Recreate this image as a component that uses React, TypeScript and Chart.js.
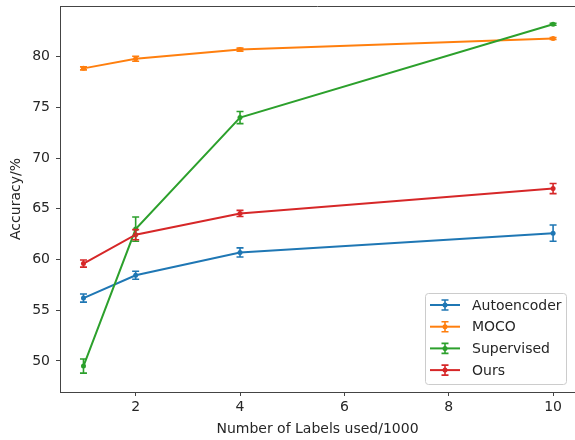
import React, { useEffect, useRef } from "react";
import { Chart, registerables } from "chart.js";

Chart.register(...registerables);

const xValues = [1, 2, 4, 10];
const xTicks = [2, 4, 6, 8, 10];
const yTicks = [50, 55, 60, 65, 70, 75, 80];

const seriesNames = ["Autoencoder", "MOCO", "Supervised", "Ours"];
const seriesColors = ["#1f77b4", "#ff7f0e", "#2ca02c", "#d62728"];

const autoencoder = [56.2, 58.45, 60.7, 62.6];
const autoencoderErr = [0.4, 0.4, 0.45, 0.8];
const moco = [78.85, 79.8, 80.7, 81.8];
const mocoErr = [0.15, 0.25, 0.15, 0.1];
const supervised = [49.5, 63.0, 74.0, 83.2];
const supervisedErr = [0.7, 1.2, 0.6, 0.1];
const ours = [59.6, 62.45, 64.55, 67.0];
const oursErr = [0.35, 0.5, 0.3, 0.5];

const seriesValues = [autoencoder, moco, supervised, ours];
const seriesErrors = [autoencoderErr, mocoErr, supervisedErr, oursErr];

const FONT = "'DejaVu Sans', sans-serif";
const TEXT = "#262626";
const AXIS = "#444";

const errorBarPlugin = {
  id: "errorBars",
  afterDatasetsDraw(chart: any) {
    const ctx = chart.ctx;
    const xs = chart.scales.x;
    const ys = chart.scales.y;
    const cap = 3.5;
    chart.data.datasets.forEach((ds: any, i: number) => {
      const errs = seriesErrors[i];
      ctx.save();
      ctx.strokeStyle = ds.borderColor;
      ctx.lineWidth = 1.6;
      ds.data.forEach((p: any, j: number) => {
        const px = xs.getPixelForValue(p.x);
        const y1 = ys.getPixelForValue(p.y - errs[j]);
        const y2 = ys.getPixelForValue(p.y + errs[j]);
        ctx.beginPath();
        ctx.moveTo(px, y1);
        ctx.lineTo(px, y2);
        ctx.moveTo(px - cap, y1);
        ctx.lineTo(px + cap, y1);
        ctx.moveTo(px - cap, y2);
        ctx.lineTo(px + cap, y2);
        ctx.stroke();
      });
      ctx.restore();
    });
  },
  afterDraw(chart: any) {
    const ctx = chart.ctx;
    const area = chart.chartArea;
    ctx.save();
    // top spine
    ctx.strokeStyle = AXIS;
    ctx.lineWidth = 1;
    ctx.beginPath();
    ctx.moveTo(area.left, area.top + 0.5);
    ctx.lineTo(area.right, area.top + 0.5);
    ctx.stroke();

    // legend
    const bx = 425, by = 293, bw = 141, bh = 91;
    ctx.fillStyle = "rgba(255,255,255,0.85)";
    ctx.strokeStyle = "#cccccc";
    ctx.lineWidth = 1;
    ctx.beginPath();
    (ctx as any).roundRect(bx + 0.5, by + 0.5, bw, bh, 3);
    ctx.fill();
    ctx.stroke();
    chart.data.datasets.forEach((ds: any, i: number) => {
      const cy = 305 + i * 21.7;
      ctx.strokeStyle = ds.borderColor;
      ctx.fillStyle = ds.borderColor;
      ctx.lineWidth = 2;
      ctx.beginPath();
      ctx.moveTo(430, cy);
      ctx.lineTo(460, cy);
      ctx.stroke();
      ctx.lineWidth = 1.6;
      ctx.beginPath();
      ctx.moveTo(445, cy - 5);
      ctx.lineTo(445, cy + 5);
      ctx.moveTo(441.5, cy - 5);
      ctx.lineTo(448.5, cy - 5);
      ctx.moveTo(441.5, cy + 5);
      ctx.lineTo(448.5, cy + 5);
      ctx.stroke();
      ctx.beginPath();
      ctx.arc(445, cy, 2.5, 0, Math.PI * 2);
      ctx.fill();
      ctx.fillStyle = TEXT;
      ctx.font = `14px ${FONT}`;
      ctx.textBaseline = "middle";
      ctx.textAlign = "left";
      ctx.fillText(ds.label, 472, cy + 1);
    });
    ctx.restore();
  },
};

export default function App() {
  const ref = useRef<HTMLCanvasElement | null>(null);

  useEffect(() => {
    document.body.style.margin = "0";
    const canvas = ref.current;
    if (!canvas) return;
    const datasets = seriesNames.map((name, i) => ({
      label: name,
      data: xValues.map((x, j) => ({ x, y: seriesValues[i][j] })),
      borderColor: seriesColors[i],
      backgroundColor: seriesColors[i],
      borderWidth: 2,
      pointRadius: 2.5,
      pointHoverRadius: 2.5,
      pointBorderWidth: 0,
      tension: 0,
      fill: false,
      clip: false,
      order: seriesNames.length - i,
    }));
    const chart = new Chart(canvas, {
      type: "line",
      data: { datasets },
      options: {
        responsive: false,
        animation: false,
        devicePixelRatio: 1,
        layout: { autoPadding: false, padding: { top: 6, left: 0, right: 0, bottom: 0 } },
        plugins: { legend: { display: false }, tooltip: { enabled: false } },
        scales: {
          x: {
            type: "linear",
            min: 0.55,
            max: 10.42,
            afterBuildTicks: (axis: any) => {
              axis.ticks = xTicks.map((v) => ({ value: v }));
            },
            afterFit: (s: any) => {
              s.height = 48;
              s.paddingLeft = 0;
              s.paddingRight = 0;
            },
            grid: { drawOnChartArea: false, drawTicks: true, tickLength: 4, color: AXIS },
            border: { display: true, color: AXIS, width: 1 },
            ticks: { font: { family: FONT, size: 14 }, color: TEXT, padding: 3, maxRotation: 0 },
            title: {
              display: true,
              text: "Number of Labels used/1000",
              font: { family: FONT, size: 14 },
              color: TEXT,
              padding: { top: 0, bottom: 2 },
            },
          },
          y: {
            type: "linear",
            min: 46.94,
            max: 85,
            afterBuildTicks: (axis: any) => {
              axis.ticks = yTicks.map((v) => ({ value: v }));
            },
            afterFit: (s: any) => {
              s.width = 60;
              s.paddingTop = 0;
              s.paddingBottom = 0;
            },
            grid: { drawOnChartArea: false, drawTicks: true, tickLength: 4, color: AXIS },
            border: { display: true, color: AXIS, width: 1 },
            ticks: { font: { family: FONT, size: 14 }, color: TEXT, padding: 6 },
            title: {
              display: true,
              text: "Accuracy/%",
              font: { family: FONT, size: 14 },
              color: TEXT,
              padding: { top: 8, bottom: 0 },
            },
          },
        },
      },
      plugins: [errorBarPlugin],
    } as any);
    return () => chart.destroy();
  }, []);

  return (
    <div style={{ position: "absolute", left: 0, top: 0, width: 575, height: 440, background: "#fff" }}>
      <canvas ref={ref} width={575} height={440} />
    </div>
  );
}
